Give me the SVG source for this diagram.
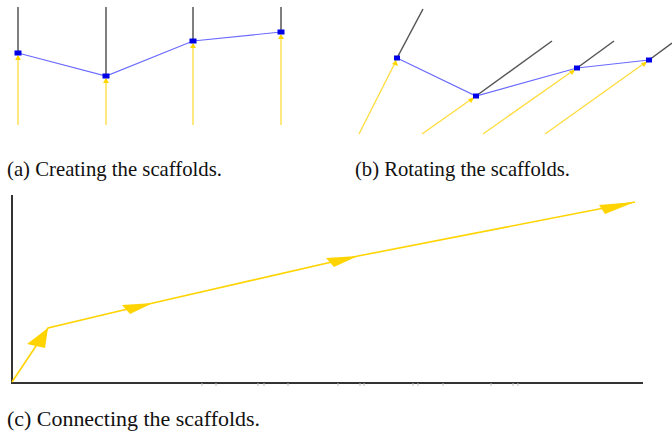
<svg xmlns="http://www.w3.org/2000/svg" width="672" height="435" viewBox="0 0 672 435">
<style>
.stem{stroke:#555;stroke-width:1.5;fill:none}
.link{stroke:#6a6aff;stroke-width:1.2;fill:none}
.ray{stroke:#ffdc3c;stroke-width:1.3;fill:none}
.node{fill:#0000e6}
.tip{fill:#ffd700}
.path{stroke:#ffd400;stroke-width:1.6;fill:none}
.head{fill:#ffd400}
.axis{stroke:#333;stroke-width:2;fill:none}
.tick{stroke:#bbb;stroke-width:1}
.cap{font-family:"Liberation Serif","Times New Roman",serif;font-size:21px;fill:#111}
</style>
<!-- Panel (a) -->
<g id="panel-a">
  <g id="a-connectors">
    <line class="stem" x1="18" y1="7" x2="18" y2="53"/>
    <line class="stem" x1="106" y1="7" x2="106" y2="76"/>
    <line class="stem" x1="193" y1="7" x2="193" y2="41"/>
    <line class="stem" x1="281" y1="7" x2="281" y2="32"/>
    <polyline class="link" points="18,53 106,76 193,41 281,32"/>
    <line class="ray" x1="18" y1="125" x2="18" y2="56"/>
    <line class="ray" x1="106" y1="125" x2="106" y2="79"/>
    <line class="ray" x1="193" y1="125" x2="193" y2="44"/>
    <line class="ray" x1="281" y1="125" x2="281" y2="35"/>
  </g>
  <g id="a-node1"><polygon class="tip" points="18,55 15,60 21,60"/><rect class="node" x="14.5" y="50.5" width="7" height="5"/></g>
  <g id="a-node2"><polygon class="tip" points="106,78 103,83 109,83"/><rect class="node" x="102.5" y="73.5" width="7" height="5"/></g>
  <g id="a-node3"><polygon class="tip" points="193,43 190,48 196,48"/><rect class="node" x="189.5" y="38.5" width="7" height="5"/></g>
  <g id="a-node4"><polygon class="tip" points="281,34 278,39 284,39"/><rect class="node" x="277.5" y="29.5" width="7" height="5"/></g>
</g>
<!-- Panel (b) -->
<g id="panel-b">
  <g id="b-connectors">
    <line class="stem" x1="397" y1="58" x2="423" y2="9"/>
    <line class="stem" x1="476" y1="96" x2="552" y2="41"/>
    <line class="stem" x1="577" y1="68" x2="614" y2="41"/>
    <line class="stem" x1="649" y1="60" x2="672" y2="43"/>
    <polyline class="link" points="397,58 476,96 577,68 649,60"/>
    <line class="ray" x1="359" y1="134" x2="396" y2="61"/>
    <line class="ray" x1="422" y1="134" x2="473" y2="98"/>
    <line class="ray" x1="483" y1="134" x2="574" y2="70"/>
    <line class="ray" x1="545" y1="134" x2="646" y2="62"/>
  </g>
  <g id="b-node1"><polygon class="tip" points="396,60 392,64 398,66"/><rect class="node" x="394" y="55.5" width="6" height="5"/></g>
  <g id="b-node2"><polygon class="tip" points="474,98 468,99 471,103"/><rect class="node" x="473" y="93.5" width="6" height="5"/></g>
  <g id="b-node3"><polygon class="tip" points="575,70 569,71 572,75"/><rect class="node" x="574" y="65.5" width="6" height="5"/></g>
  <g id="b-node4"><polygon class="tip" points="647,62 641,63 644,67"/><rect class="node" x="646" y="57.5" width="6" height="5"/></g>
</g>
<!-- Panel (c) -->
<g id="panel-c">
  <g id="c-axes">
    <line class="axis" x1="12" y1="195" x2="12" y2="383"/>
    <line class="axis" x1="11" y1="383" x2="643" y2="383"/>
    <g class="tick">
      <line x1="202" y1="383" x2="202" y2="386"/><line x1="216" y1="383" x2="216" y2="386"/>
      <line x1="258" y1="383" x2="258" y2="386"/><line x1="264" y1="383" x2="264" y2="386"/>
      <line x1="288" y1="383" x2="288" y2="386"/><line x1="338" y1="383" x2="338" y2="386"/>
      <line x1="360" y1="383" x2="360" y2="386"/><line x1="364" y1="383" x2="364" y2="386"/>
      <line x1="413" y1="383" x2="413" y2="386"/><line x1="418" y1="383" x2="418" y2="386"/>
      <line x1="443" y1="383" x2="443" y2="386"/><line x1="491" y1="383" x2="491" y2="386"/>
      <line x1="513" y1="383" x2="513" y2="386"/><line x1="518" y1="383" x2="518" y2="386"/>
    </g>
  </g>
  <g id="c-connectors">
    <polyline class="path" points="12,382 48,328 153,303 358,256 635,202"/>
  </g>
  <g id="c-arrow1"><polygon class="head" points="48,328 27,344 45,348"/></g>
  <g id="c-arrow2"><polygon class="head" points="153,303 122,305 130,314"/></g>
  <g id="c-arrow3"><polygon class="head" points="358,256 326,258 334,267"/></g>
  <g id="c-arrow4"><polygon class="head" points="635,202 599,205 605,214"/></g>
</g>
<text class="cap" x="7" y="176" textLength="215" lengthAdjust="spacingAndGlyphs">(a) Creating the scaffolds.</text>
<text class="cap" x="355" y="176" textLength="215" lengthAdjust="spacingAndGlyphs">(b) Rotating the scaffolds.</text>
<text class="cap" x="7" y="426" textLength="253" lengthAdjust="spacingAndGlyphs">(c) Connecting the scaffolds.</text>
</svg>
